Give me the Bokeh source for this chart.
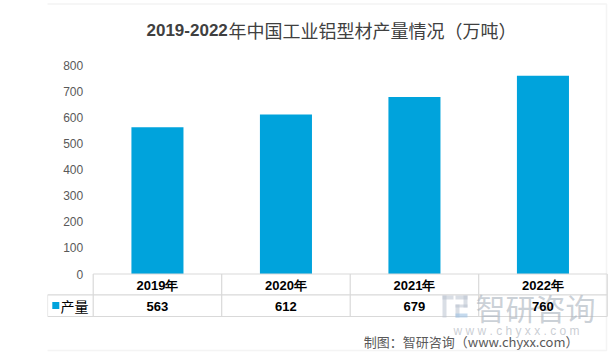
from bokeh.plotting import figure
from bokeh.models import Range1d, LinearAxis, FixedTicker, ColumnDataSource, BoxAnnotation
from bokeh.core.properties import value
from bokeh.embed import file_html
from bokeh.resources import INLINE

# ---- data ----
years = ["2019年", "2020年", "2021年", "2022年"]
output = [563, 612, 679, 760]
series_name = "产量"
y_ticks = [0, 100, 200, 300, 400, 500, 600, 700, 800]
title_num = "2019-2022"
title_rest = "年中国工业铝型材产量情况（万吨）"
footer = "制图：智研咨询（www.chyxx.com）"

# ---- layout constants (pixels) ----
W, H = 614, 356
X0, CW = 92.7, 128.5          # pixel x of category 0 left edge, category width
Y0, YS = 273.5, 0.2608        # pixel y of value 0, pixels per unit
FL = 47                        # frame left

def dx(px):
    return (px - X0) / CW

def dy(py):
    return (Y0 - py) / YS

BAR = "#00A3DC"
GRID = "#D9D9D9"
TXT = "#404040"

p = figure(width=W, height=H, output_backend="svg", toolbar_location=None,
           x_axis_type=None, y_axis_type=None,
           x_range=Range1d(dx(FL), dx(W)), y_range=Range1d(dy(H), dy(0)),
           min_border_left=FL, min_border_right=0, min_border_top=0, min_border_bottom=0)
p.outline_line_color = None
p.grid.visible = False
p.background_fill_color = "white"
p.border_fill_color = "white"

# y axis fixed at category 0 left edge
ax = LinearAxis(fixed_location=0, ticker=FixedTicker(ticks=y_ticks))
ax.axis_line_color = None
ax.major_tick_line_color = None
ax.minor_tick_line_color = None
ax.major_tick_out = 0
ax.major_label_standoff = 10
ax.major_label_text_font = "Liberation Sans"
ax.major_label_text_font_size = "12px"
ax.major_label_text_color = "#595959"
p.add_layout(ax, "left")

n = len(years)
xc = [i + 0.5 for i in range(n)]
src = ColumnDataSource(dict(x=xc, top=output, year=years,
                            val=[str(v) for v in output]))

p.vbar(x="x", top="top", bottom=0, width=0.405, source=src,
       fill_color=BAR, line_color=None)

# ---- data table ----
r1 = dy(294.3)
r2 = dy(316.0)
left_cell = dx(47)
xs0 = [0, left_cell, left_cell] + [float(i) for i in range(n + 1)] + [left_cell]
ys0 = [0, r1, r2] + [0] * (n + 1) + [r1]
xs1 = [n, n, n] + [float(i) for i in range(n + 1)] + [left_cell]
ys1 = [0, r1, r2] + [r2] * (n + 1) + [r2]
p.segment(x0=xs0, y0=ys0, x1=xs1, y1=ys1, line_color=GRID, line_width=1.2)

# ---- watermark (drawn under table text) ----
wm = dict(left=[dx(442), dx(442), dx(455), dx(463), dx(455), dx(455)],
          right=[dx(453), dx(446), dx(467), dx(467), dx(467), dx(459)],
          top=[dy(295), dy(295), dy(295), dy(295), dy(304), dy(304)],
          bottom=[dy(299), dy(317), dy(299), dy(307), dy(307), dy(317)])
p.quad(source=ColumnDataSource(wm), fill_color="#B9C3CF", fill_alpha=0.55, line_color=None)
p.quad(left=[dx(455)], right=[dx(467)], top=[dy(313)], bottom=[dy(317)],
       fill_color="#9FC2E3", fill_alpha=0.6, line_color=None)
p.text(x=[dx(475)], y=[dy(306)], text=["智研咨询"], text_align="left",
       text_baseline="middle", text_font=value("Noto Sans CJK SC"),
       text_font_size="30px", text_color="#A9B2BD", text_alpha=0.6)
p.text(x=[dx(453)], y=[dy(330)], text=["w w w . c h y x x . c o m"], text_align="left",
       text_baseline="middle", text_font=value("Liberation Sans"),
       text_font_size="12px", text_color="#BFC5CC", text_alpha=0.85)

p.text(x="x", y=dy(285), text="year", source=src, text_align="center",
       text_baseline="middle", text_font=value("Liberation Sans"),
       text_font_style="bold", text_font_size="13px", text_color="#000000")
p.text(x="x", y=dy(305.5), text="val", source=src, text_align="center",
       text_baseline="middle", text_font=value("Liberation Sans"),
       text_font_style="bold", text_font_size="13px", text_color="#000000")

# legend key in table
p.rect(x=[dx(55.3)], y=[dy(305)], width=7, height=7, width_units="screen",
       height_units="screen", fill_color=BAR, line_color=None)
p.text(x=[dx(60)], y=[dy(305.5)], text=[series_name], text_align="left",
       text_baseline="middle", text_font=value("Noto Sans CJK SC"),
       text_font_size="14px", text_color="#000000")

# ---- title ----
p.text(x=[dx(146)], y=[dy(29)], text=[title_num], text_align="left",
       text_baseline="middle", text_font=value("Liberation Sans"),
       text_font_style="bold", text_font_size="17px", text_color=TXT)
p.text(x=[dx(228)], y=[dy(29)], text=[title_rest], text_align="left",
       text_baseline="middle", text_font=value("Noto Sans CJK SC"),
       text_font_size="18px", text_color=TXT)

# ---- footer ----
p.text(x=[dx(578)], y=[dy(341)], text=[footer], text_align="right",
       text_baseline="middle", text_font=value("Noto Sans CJK SC"),
       text_font_size="13px", text_color="#595959")

# ---- outer border ----
p.add_layout(BoxAnnotation(left=dx(3), right=dx(606), top=dy(3.5), bottom=dy(350),
                           fill_alpha=0, line_color=GRID, line_width=1.5))

open("out.html", "w").write(file_html(p, INLINE))
